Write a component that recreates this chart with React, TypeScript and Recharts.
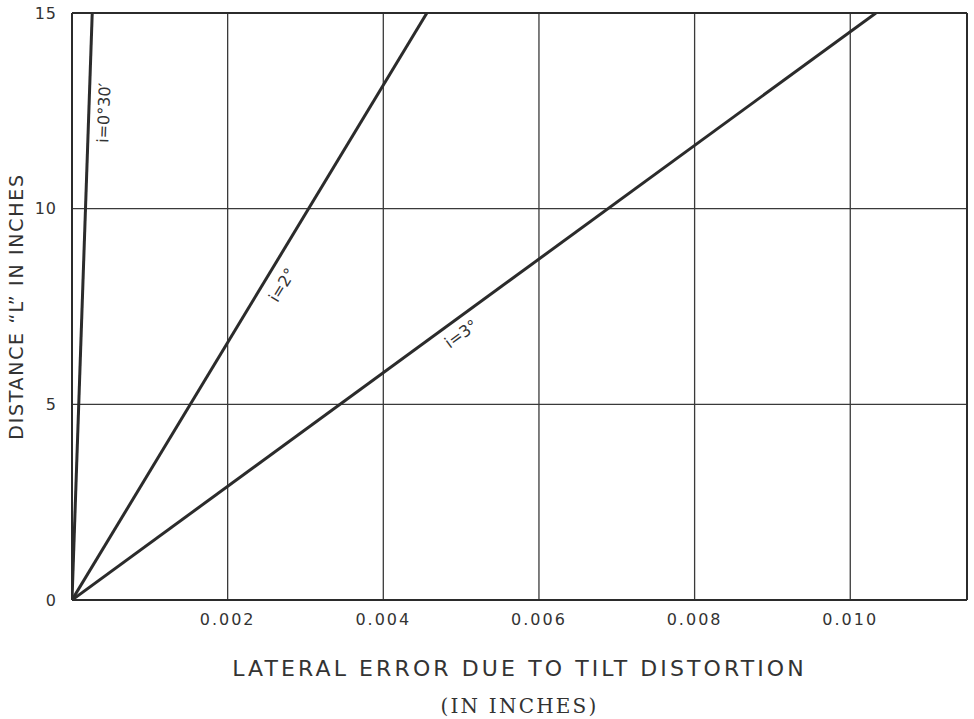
import { CartesianGrid, Label, Line, LineChart, ReferenceDot, ReferenceLine, XAxis, YAxis } from 'recharts';

// tilt lines, lateral error (in) against distance L (in)
const tilt030 = [
  { x: 0, y: 0 },
  { x: 0.00026, y: 15 },
];
const tilt2 = [
  { x: 0, y: 0 },
  { x: 0.00456, y: 15 },
];
const tilt3 = [
  { x: 0, y: 0 },
  { x: 0.01033, y: 15 },
];

const xTicks = [0.002, 0.004, 0.006, 0.008, 0.01];
const yTicks = [0, 5, 10, 15];

const curveLabels = [
  { text: 'i=0°30′', x: 0.00041, y: 12.45, angle: -88 },
  { text: 'i=2°', x: 0.0027, y: 8.05, angle: -58.7 },
  { text: 'i=3°', x: 0.005, y: 6.8, angle: -36.1 },
];

const ink = '#2b2b2b';
const font = '"DejaVu Sans", sans-serif';

export default function App() {
  return (
    <div style={{ position: 'absolute', left: 0, top: 0, background: '#fff' }}>
      <LineChart width={974} height={719} margin={{ top: 13, right: 7, bottom: 0, left: 0 }}>
        <CartesianGrid stroke="#3a3a3a" strokeWidth={1.3} />
        <XAxis
          type="number"
          dataKey="x"
          domain={[0, 0.0115]}
          ticks={xTicks}
          allowDataOverflow
          tickLine={false}
          axisLine={{ stroke: ink, strokeWidth: 2 }}
          tickMargin={8}
          tickFormatter={(v: number) => v.toFixed(3)}
          tick={{ fill: '#333', fontSize: 16, fontFamily: font, letterSpacing: 2 }}
          height={119}
        >
          <Label
            content={({ viewBox }: any) => {
              const cx = viewBox.x + viewBox.width / 2;
              return (
                <g>
                  <text x={cx} y={668} textAnchor="middle" dominantBaseline="central" fill="#333" fontSize={22} fontFamily={font} letterSpacing={3.1}>
                    LATERAL ERROR DUE TO TILT DISTORTION
                  </text>
                  <text x={cx} y={706} textAnchor="middle" dominantBaseline="central" fill="#333" fontSize={20} fontFamily='"DejaVu Serif", serif' letterSpacing={2.2}>
                    (IN INCHES)
                  </text>
                </g>
              );
            }}
          />
        </XAxis>
        <YAxis
          type="number"
          domain={[0, 15]}
          ticks={yTicks}
          allowDataOverflow
          tickLine={false}
          axisLine={{ stroke: ink, strokeWidth: 2 }}
          tickMargin={9}
          tick={{ fill: '#333', fontSize: 16, fontFamily: font, letterSpacing: 1 }}
          width={72}
        >
          <Label
            content={({ viewBox }: any) => {
              const cy = viewBox.y + viewBox.height / 2;
              return (
                <text x={16} y={cy} transform={`rotate(-90 16 ${cy})`} textAnchor="middle" dominantBaseline="central" fill="#333" fontSize={19} fontFamily={font} letterSpacing={1.7}>
                  DISTANCE “L” IN INCHES
                </text>
              );
            }}
          />
        </YAxis>
        <ReferenceLine x={0.0115} stroke={ink} strokeWidth={2} />
        <ReferenceLine y={15} stroke={ink} strokeWidth={2} />
        <Line data={tilt030} dataKey="y" type="linear" stroke={ink} strokeWidth={3} dot={false} isAnimationActive={false} />
        <Line data={tilt2} dataKey="y" type="linear" stroke={ink} strokeWidth={3} dot={false} isAnimationActive={false} />
        <Line data={tilt3} dataKey="y" type="linear" stroke={ink} strokeWidth={3} dot={false} isAnimationActive={false} />
        {curveLabels.map((l) => (
          <ReferenceDot
            key={l.text}
            x={l.x}
            y={l.y}
            r={0}
            shape={({ cx, cy }: any) => (
              <text x={cx} y={cy} transform={`rotate(${l.angle} ${cx} ${cy})`} textAnchor="middle" dominantBaseline="central" fill="#333" fontSize={16} fontFamily={font}>
                {l.text}
              </text>
            )}
          />
        ))}
      </LineChart>
    </div>
  );
}
